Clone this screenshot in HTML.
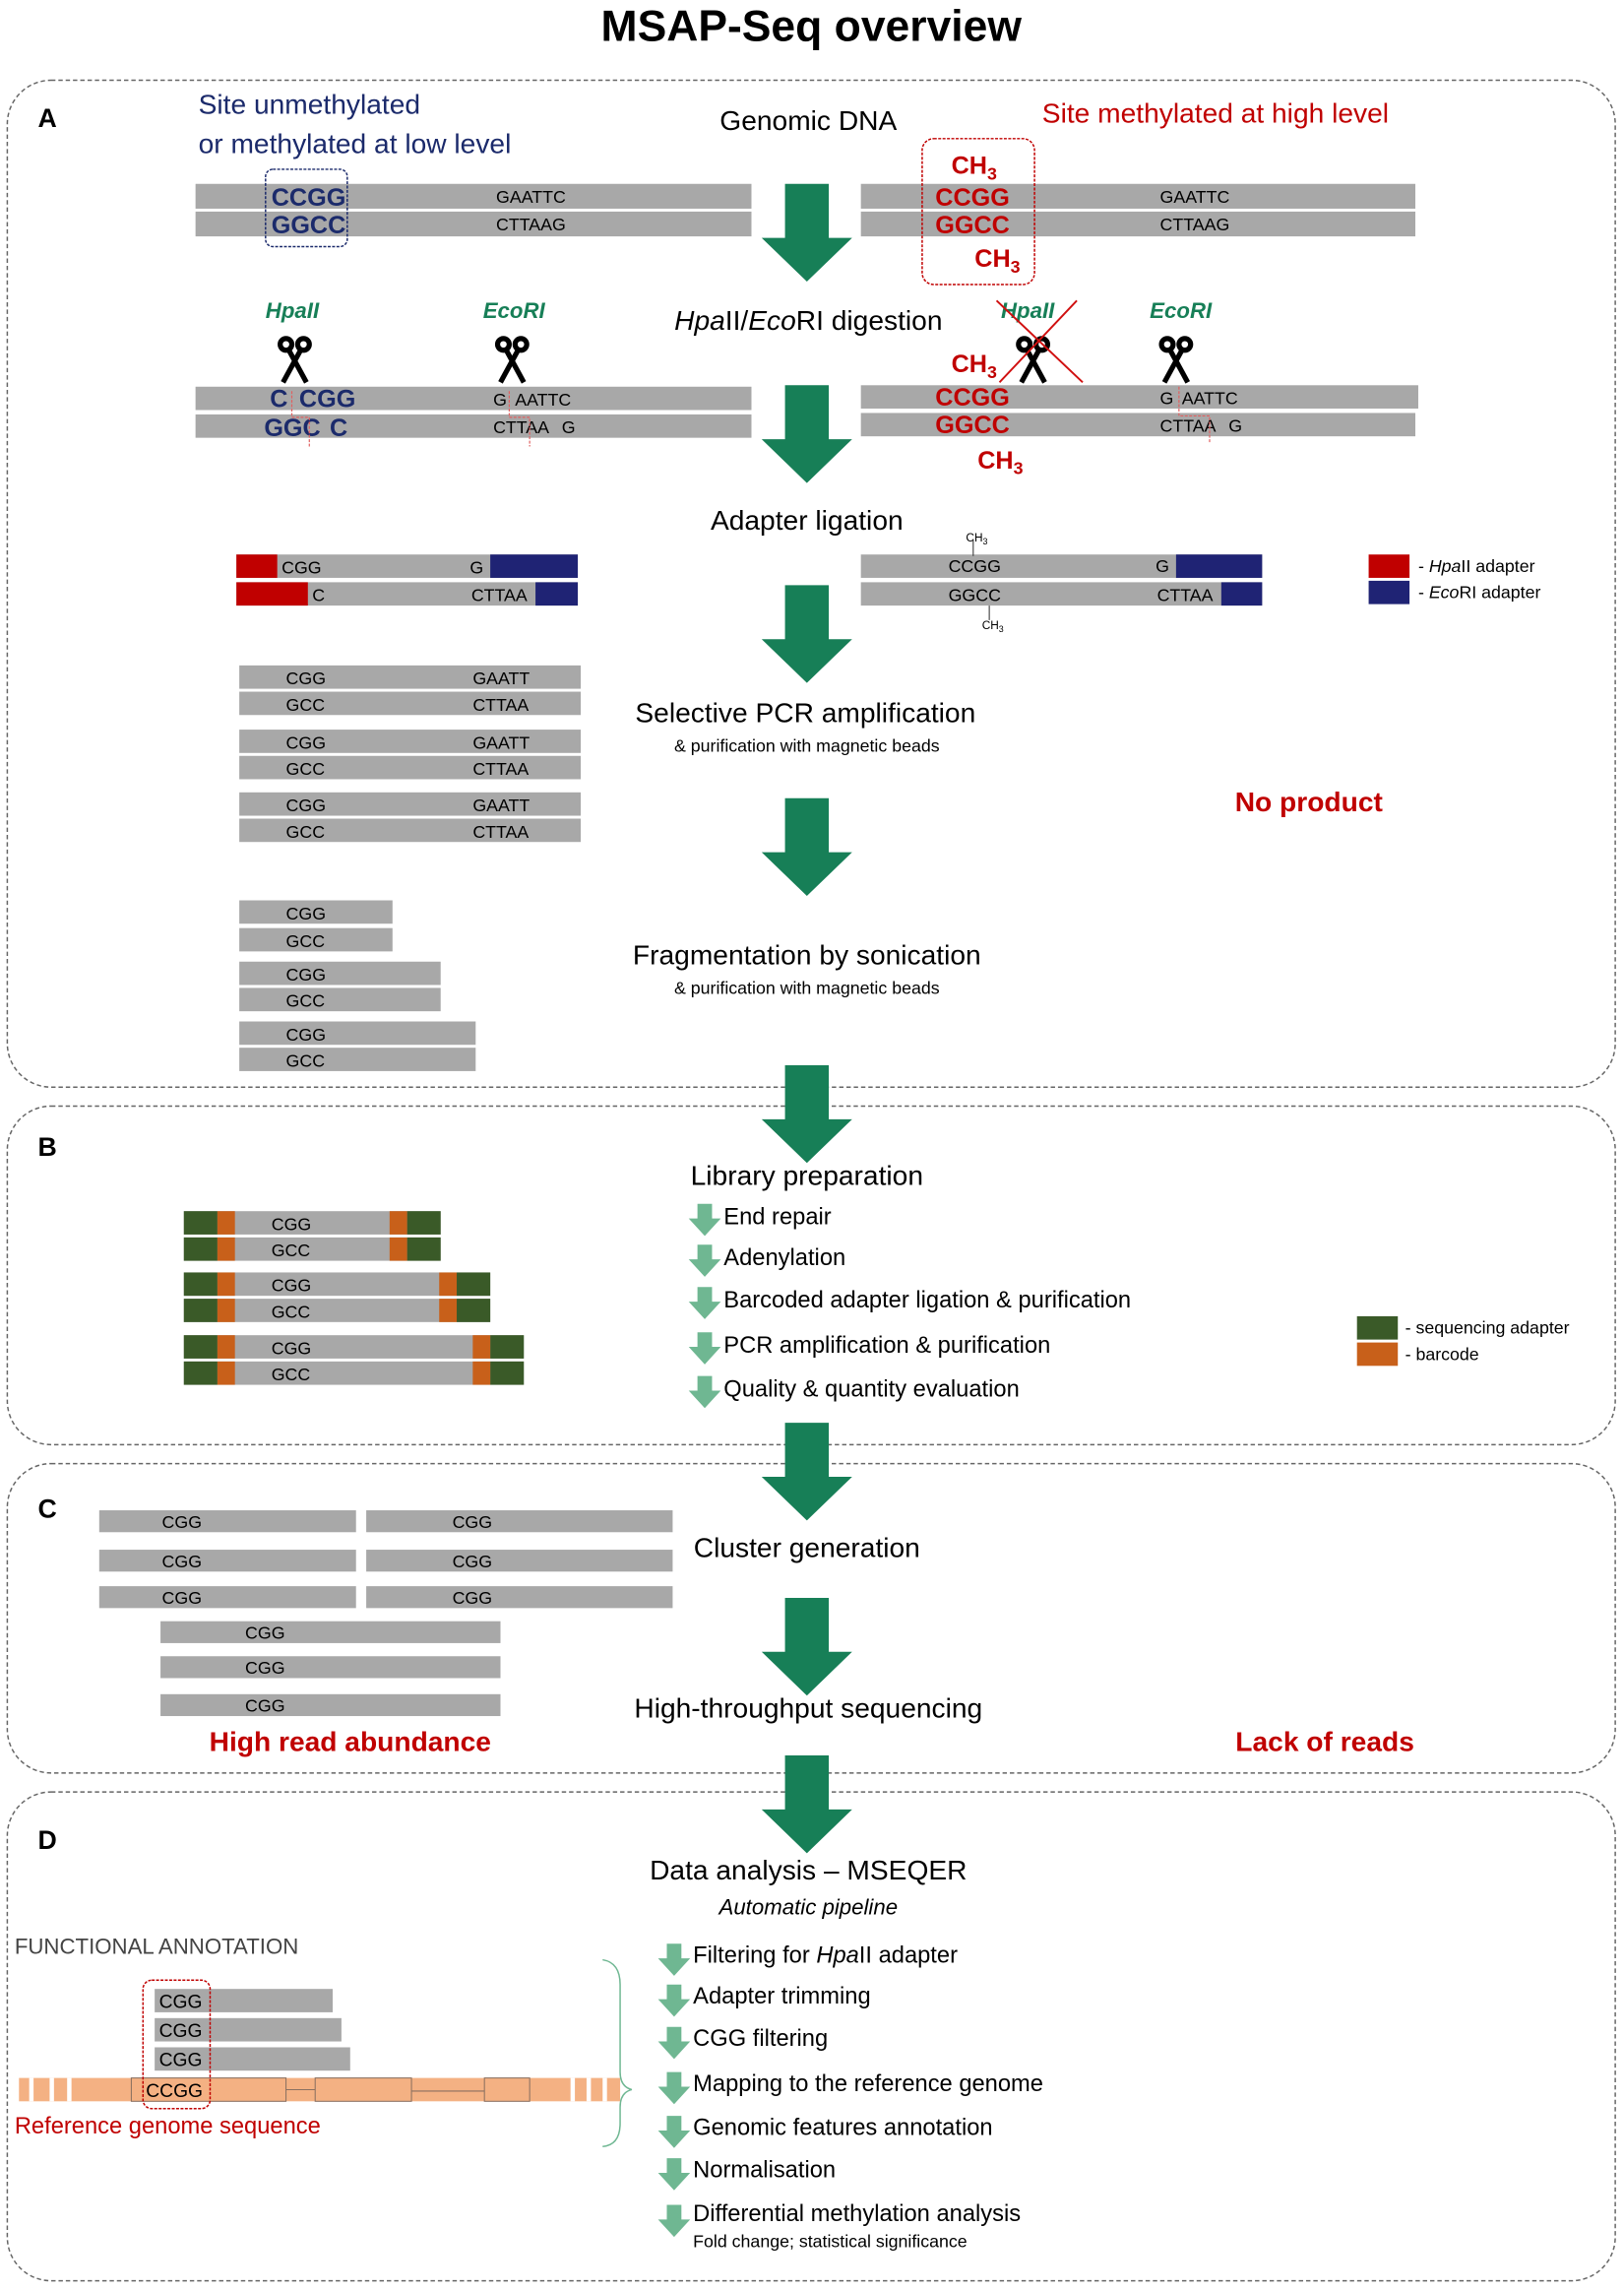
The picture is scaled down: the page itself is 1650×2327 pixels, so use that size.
<!DOCTYPE html>
<html><head><meta charset="utf-8"><style>
html,body{margin:0;padding:0;background:#fff}
svg{display:block}
text{font-family:"Liberation Sans",sans-serif}
</style></head><body>
<svg width="1650" height="2327" viewBox="0 0 1113 1570" preserveAspectRatio="none" xmlns="http://www.w3.org/2000/svg">
<defs>
<g id="ga"><path d="M-15,0 h30 v37 h16 l-31,30 l-31,-30 h16 z" fill="#177f57"/></g>
<g id="sa"><path d="M-5,0 h10 v10 h6 l-11,12 l-11,-12 h6 z" fill="#6fb792"/></g>
<g id="sc" stroke="#000" stroke-width="3.5" fill="none"><circle cx="-6" cy="-12" r="4"/><circle cx="6" cy="-12" r="4"/><path d="M-4,-8 L8,14 M4,-8 L-8,14"/></g>
</defs>
<text x="556" y="28" font-size="30" font-weight="bold" text-anchor="middle">MSAP-Seq overview</text>
<g fill="none" stroke="#666" stroke-width="1" stroke-dasharray="3,2">
<rect x="5" y="55" width="1102" height="690" rx="30"/>
<rect x="5" y="758" width="1102" height="232" rx="30"/>
<rect x="5" y="1003" width="1102" height="212" rx="30"/>
<rect x="5" y="1228" width="1102" height="335" rx="30"/>
</g>
<g font-size="18" font-weight="bold"><text x="26" y="87">A</text><text x="26" y="792">B</text><text x="26" y="1040">C</text><text x="26" y="1267">D</text></g>
<use href="#ga" x="553" y="126"/><use href="#ga" x="553" y="264"/><use href="#ga" x="553" y="401"/><use href="#ga" x="553" y="547"/><use href="#ga" x="553" y="730"/><use href="#ga" x="553" y="975"/><use href="#ga" x="553" y="1095"/><use href="#ga" x="553" y="1203"/>
<!-- A -->
<text x="136" y="78" font-size="19" fill="#1b2a6b">Site  unmethylated</text>
<text x="136" y="105" font-size="19" fill="#1b2a6b">or methylated at low level</text>
<text x="554" y="89" font-size="19" text-anchor="middle">Genomic DNA</text>
<text x="833" y="84" font-size="19" fill="#c00000" text-anchor="middle">Site methylated at high level</text>
<g fill="#a8a8a8"><rect x="134" y="126" width="381" height="17"/><rect x="134" y="145" width="381" height="17"/><rect x="590" y="126" width="380" height="17"/><rect x="590" y="145" width="380" height="17"/>
<rect x="134" y="265" width="381" height="16"/><rect x="134" y="284" width="381" height="16"/><rect x="590" y="264" width="382" height="16"/><rect x="590" y="283" width="380" height="16"/></g>
<rect x="182" y="116" width="56" height="53" rx="5" fill="none" stroke="#1b2a6b" stroke-dasharray="2,1"/>
<rect x="632" y="95" width="77" height="100" rx="8" fill="none" stroke="#c00000" stroke-dasharray="2,1"/>
<g font-size="17" font-weight="bold" fill="#1b2a6b"><text x="186" y="141">CCGG</text><text x="186" y="160">GGCC</text><text x="185" y="279">C</text><text x="205" y="279">CGG</text><text x="181" y="299">GGC</text><text x="226" y="299">C</text></g>
<g font-size="12"><text x="340" y="139">GAATTC</text><text x="340" y="158">CTTAAG</text><text x="795" y="139">GAATTC</text><text x="795" y="158">CTTAAG</text>
<text x="338" y="278">G</text><text x="353" y="278">AATTC</text><text x="338" y="297">CTTAA</text><text x="385" y="297">G</text>
<text x="795" y="277">G</text><text x="810" y="277">AATTC</text><text x="795" y="296">CTTAA</text><text x="842" y="296">G</text></g>
<g font-size="17" font-weight="bold" fill="#c00000"><text x="652" y="119">CH<tspan font-size="12" dy="4">3</tspan></text><text x="641" y="141">CCGG</text><text x="641" y="160">GGCC</text><text x="668" y="183">CH<tspan font-size="12" dy="4">3</tspan></text>
<text x="652" y="255">CH<tspan font-size="12" dy="4">3</tspan></text><text x="641" y="278">CCGG</text><text x="641" y="297">GGCC</text><text x="670" y="321">CH<tspan font-size="12" dy="4">3</tspan></text></g>
<g stroke="#e06060" stroke-width="0.8" stroke-dasharray="2,1" fill="none"><path d="M200,268 V286 H212 V306"/><path d="M349,268 V286 H363 V306"/><path d="M808,265 V285 H829 V303"/></g>
<g font-size="15" font-weight="bold" font-style="italic" fill="#177f57"><text x="182" y="218">HpaII</text><text x="331" y="218">EcoRI</text><text x="686" y="218">HpaII</text><text x="788" y="218">EcoRI</text></g>
<use href="#sc" x="202" y="248"/><use href="#sc" x="351" y="248"/><use href="#sc" x="708" y="248"/><use href="#sc" x="806" y="248"/>
<path d="M683,206 L742,262 M738,206 L685,262" stroke="#d01010" stroke-width="1.3"/>
<text x="554" y="226" font-size="19" text-anchor="middle"><tspan font-style="italic">Hpa</tspan>II/<tspan font-style="italic">Eco</tspan>RI digestion</text>
<text x="553" y="363" font-size="19" text-anchor="middle">Adapter ligation</text>
<g fill="#a8a8a8"><rect x="162" y="380" width="234" height="16"/><rect x="162" y="399" width="234" height="16"/><rect x="590" y="380" width="275" height="16"/><rect x="590" y="399" width="275" height="16"/></g>
<g fill="#c00000"><rect x="162" y="380" width="28" height="16"/><rect x="162" y="399" width="49" height="16"/><rect x="938" y="380" width="28" height="16"/></g>
<g fill="#1f2374"><rect x="336" y="380" width="60" height="16"/><rect x="367" y="399" width="29" height="16"/><rect x="806" y="380" width="59" height="16"/><rect x="837" y="399" width="28" height="16"/><rect x="938" y="398" width="28" height="16"/></g>
<g font-size="12"><text x="193" y="393">CGG</text><text x="322" y="393">G</text><text x="214" y="412">C</text><text x="323" y="412">CTTAA</text>
<text x="650" y="392">CCGG</text><text x="792" y="392">G</text><text x="650" y="412">GGCC</text><text x="793" y="412">CTTAA</text>
<text x="972" y="392">- <tspan font-style="italic">Hpa</tspan>II adapter</text><text x="972" y="410">- <tspan font-style="italic">Eco</tspan>RI adapter</text></g>
<g font-size="8"><text x="662" y="371">CH<tspan font-size="6" dy="2">3</tspan></text><text x="673" y="431">CH<tspan font-size="6" dy="2">3</tspan></text></g>
<path d="M667,370 V381 M678,415 V425" stroke="#333" stroke-width="0.7"/>
<g fill="#a8a8a8"><rect x="164" y="456" width="234" height="16"/><rect x="164" y="474" width="234" height="16"/><rect x="164" y="500" width="234" height="16"/><rect x="164" y="518" width="234" height="16"/><rect x="164" y="543" width="234" height="16"/><rect x="164" y="561" width="234" height="16"/>
<rect x="164" y="617" width="105" height="16"/><rect x="164" y="636" width="105" height="16"/><rect x="164" y="659" width="138" height="16"/><rect x="164" y="677" width="138" height="16"/><rect x="164" y="700" width="162" height="16"/><rect x="164" y="718" width="162" height="16"/></g>
<g font-size="12"><text x="196" y="469">CGG</text><text x="324" y="469">GAATT</text><text x="196" y="487">GCC</text><text x="324" y="487">CTTAA</text>
<text x="196" y="513">CGG</text><text x="324" y="513">GAATT</text><text x="196" y="531">GCC</text><text x="324" y="531">CTTAA</text>
<text x="196" y="556">CGG</text><text x="324" y="556">GAATT</text><text x="196" y="574">GCC</text><text x="324" y="574">CTTAA</text>
<text x="196" y="630">CGG</text><text x="196" y="649">GCC</text><text x="196" y="672">CGG</text><text x="196" y="690">GCC</text><text x="196" y="713">CGG</text><text x="196" y="731">GCC</text></g>
<text x="552" y="495" font-size="19" text-anchor="middle">Selective PCR amplification</text>
<text x="553" y="515" font-size="12" text-anchor="middle">&amp; purification with magnetic beads</text>
<text x="897" y="556" font-size="19" font-weight="bold" fill="#c00000" text-anchor="middle">No product</text>
<text x="553" y="661" font-size="19" text-anchor="middle">Fragmentation by sonication</text>
<text x="553" y="681" font-size="12" text-anchor="middle">&amp; purification with magnetic beads</text>
<!-- B -->
<text x="553" y="812" font-size="19" text-anchor="middle">Library preparation</text>
<g fill="#a8a8a8"><rect x="126" y="830" width="176" height="16"/><rect x="126" y="848" width="176" height="16"/><rect x="126" y="872" width="210" height="16"/><rect x="126" y="890" width="210" height="16"/><rect x="126" y="915" width="233" height="16"/><rect x="126" y="933" width="233" height="16"/></g>
<g fill="#3a5a28"><rect x="126" y="830" width="23" height="16"/><rect x="126" y="848" width="23" height="16"/><rect x="279" y="830" width="23" height="16"/><rect x="279" y="848" width="23" height="16"/>
<rect x="126" y="872" width="23" height="16"/><rect x="126" y="890" width="23" height="16"/><rect x="313" y="872" width="23" height="16"/><rect x="313" y="890" width="23" height="16"/>
<rect x="126" y="915" width="23" height="16"/><rect x="126" y="933" width="23" height="16"/><rect x="336" y="915" width="23" height="16"/><rect x="336" y="933" width="23" height="16"/><rect x="930" y="902" width="28" height="16"/></g>
<g fill="#c8601a"><rect x="149" y="830" width="12" height="16"/><rect x="149" y="848" width="12" height="16"/><rect x="267" y="830" width="12" height="16"/><rect x="267" y="848" width="12" height="16"/>
<rect x="149" y="872" width="12" height="16"/><rect x="149" y="890" width="12" height="16"/><rect x="301" y="872" width="12" height="16"/><rect x="301" y="890" width="12" height="16"/>
<rect x="149" y="915" width="12" height="16"/><rect x="149" y="933" width="12" height="16"/><rect x="324" y="915" width="12" height="16"/><rect x="324" y="933" width="12" height="16"/><rect x="930" y="920" width="28" height="16"/></g>
<g font-size="12"><text x="186" y="843">CGG</text><text x="186" y="861">GCC</text><text x="186" y="885">CGG</text><text x="186" y="903">GCC</text><text x="186" y="928">CGG</text><text x="186" y="946">GCC</text>
<text x="963" y="914">- sequencing adapter</text><text x="963" y="932">- barcode</text></g>
<use href="#sa" x="483" y="825"/><use href="#sa" x="483" y="853"/><use href="#sa" x="483" y="882"/><use href="#sa" x="483" y="913"/><use href="#sa" x="483" y="943"/>
<g font-size="16"><text x="496" y="839">End repair</text><text x="496" y="867">Adenylation</text><text x="496" y="896">Barcoded adapter ligation &amp; purification</text><text x="496" y="927">PCR amplification &amp; purification</text><text x="496" y="957">Quality &amp; quantity evaluation</text></g>
<!-- C -->
<g fill="#a8a8a8"><rect x="68" y="1035" width="176" height="15"/><rect x="251" y="1035" width="210" height="15"/><rect x="68" y="1062" width="176" height="15"/><rect x="251" y="1062" width="210" height="15"/><rect x="68" y="1087" width="176" height="15"/><rect x="251" y="1087" width="210" height="15"/>
<rect x="110" y="1111" width="233" height="15"/><rect x="110" y="1135" width="233" height="15"/><rect x="110" y="1161" width="233" height="15"/></g>
<g font-size="12"><text x="111" y="1047">CGG</text><text x="310" y="1047">CGG</text><text x="111" y="1074">CGG</text><text x="310" y="1074">CGG</text><text x="111" y="1099">CGG</text><text x="310" y="1099">CGG</text><text x="168" y="1123">CGG</text><text x="168" y="1147">CGG</text><text x="168" y="1173">CGG</text></g>
<text x="553" y="1067" font-size="19" text-anchor="middle">Cluster generation</text>
<text x="554" y="1177" font-size="19" text-anchor="middle">High-throughput sequencing</text>
<text x="240" y="1200" font-size="19" font-weight="bold" fill="#c00000" text-anchor="middle">High read abundance</text>
<text x="908" y="1200" font-size="19" font-weight="bold" fill="#c00000" text-anchor="middle">Lack of reads</text>
<!-- D -->
<text x="554" y="1288" font-size="19" text-anchor="middle">Data analysis – MSEQER</text>
<text x="554" y="1312" font-size="15" font-style="italic" text-anchor="middle">Automatic pipeline</text>
<text x="10" y="1339" font-size="15" fill="#444">FUNCTIONAL ANNOTATION</text>
<g fill="#a8a8a8"><rect x="106" y="1363" width="122" height="16"/><rect x="106" y="1383" width="128" height="16"/><rect x="106" y="1403" width="134" height="16"/></g>
<g font-size="13"><text x="109" y="1376">CGG</text><text x="109" y="1396">CGG</text><text x="109" y="1416">CGG</text></g>
<rect x="13" y="1424" width="412" height="16" fill="#f4b183"/>
<g fill="#fff"><rect x="20" y="1424" width="3" height="16"/><rect x="34" y="1424" width="3" height="16"/><rect x="46" y="1424" width="3" height="16"/><rect x="391" y="1424" width="3" height="16"/><rect x="402" y="1424" width="3" height="16"/><rect x="413" y="1424" width="3" height="16"/></g>
<g fill="none" stroke="#8a7060" stroke-width="0.7"><rect x="90" y="1424" width="106" height="16"/><rect x="216" y="1424" width="66" height="16"/><rect x="332" y="1424" width="31" height="16"/><path d="M196,1432 H216 M282,1433 H332"/></g>
<text x="100" y="1437" font-size="13">CCGG</text>
<rect x="98" y="1357" width="46" height="88" rx="6" fill="none" stroke="#c00000" stroke-dasharray="2,1"/>
<text x="10" y="1462" font-size="16" fill="#c00000">Reference genome sequence</text>
<path d="M413,1343 Q425,1345 425,1360 V1420 Q425,1430 433,1432 Q425,1434 425,1444 V1455 Q425,1470 413,1471" fill="none" stroke="#6fb792" stroke-width="1"/>
<use href="#sa" x="462" y="1332"/><use href="#sa" x="462" y="1360"/><use href="#sa" x="462" y="1389"/><use href="#sa" x="462" y="1420"/><use href="#sa" x="462" y="1450"/><use href="#sa" x="462" y="1479"/><use href="#sa" x="462" y="1511"/>
<g font-size="16"><text x="475" y="1345">Filtering for <tspan font-style="italic">Hpa</tspan>II adapter</text><text x="475" y="1373">Adapter trimming</text><text x="475" y="1402">CGG filtering</text><text x="475" y="1433">Mapping to the reference genome</text><text x="475" y="1463">Genomic features annotation</text><text x="475" y="1492">Normalisation</text><text x="475" y="1522">Differential methylation analysis</text></g>
<text x="475" y="1540" font-size="12">Fold change; statistical significance</text>
</svg>
</body></html>
